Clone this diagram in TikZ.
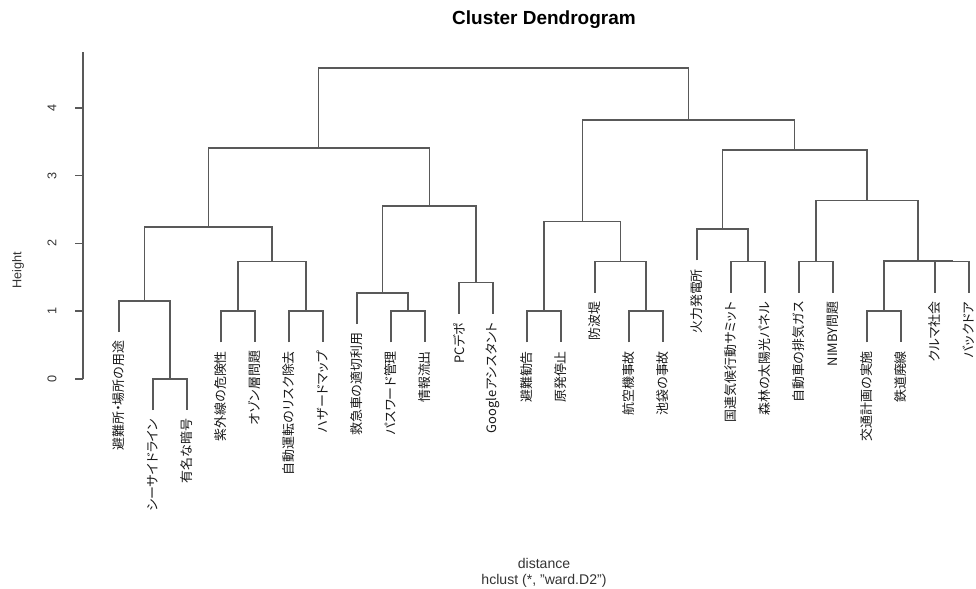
\documentclass[tikz,border=0pt]{standalone}
\usepackage{fontspec}
\setmainfont{Liberation Sans}
\newfontfamily\jpfont[RawFeature=+palt]{Noto Sans CJK JP}
\usetikzlibrary{calc}

\tikzset{
  branch/.style={draw=black!65, line width=1pt},
  leaflab/.style={rotate=90, anchor=east, inner sep=0pt, text=black!90,
    font=\jpfont\fontsize{9.2}{10}\selectfont},
  ticklab/.style={rotate=90, inner sep=0pt, text=black!80,
    font=\fontsize{9}{10}\selectfont},
}

\begin{document}
\begin{tikzpicture}[x=0.025cm, y=0.025cm]
    \useasboundingbox (0,0) rectangle (976,588);
    % titles
    \node[font=\fontsize{13.5}{15}\selectfont\bfseries] (title) at (544,568) {Cluster Dendrogram};
    \node[font=\fontsize{10}{12}\selectfont, text=black!80] (xlab) at (544,25) {distance};
    \node[font=\fontsize{10}{12}\selectfont, text=black!80] (sub) at (544,7) {hclust (*, "ward.D2")};
    \node[rotate=90, font=\fontsize{9}{11}\selectfont, text=black!80] (ylab) at (18,318) {Height};
  \begin{scope}[yshift=5.225cm, y=1.69375cm]
    % axis
    \coordinate (ax0) at (83,0);
    \coordinate (ax1) at (83,4.83);
    \draw[branch] (ax0) -- (ax1);
    \foreach \h in {0,...,4} {
      \draw[branch] (83,\h) -- (75,\h);
      \node[ticklab] (tk\h) at (52,\h) {\h};
    }
    % leaves
    \coordinate (l1) at (119,0.69);
    \coordinate (l2) at (153,-0.46);
    \coordinate (l3) at (187,-0.46);
    \coordinate (l4) at (221,0.54);
    \coordinate (l5) at (255,0.54);
    \coordinate (l6) at (289,0.54);
    \coordinate (l7) at (323,0.54);
    \coordinate (l8) at (357,0.81);
    \coordinate (l9) at (391,0.54);
    \coordinate (l10) at (425,0.54);
    \coordinate (l11) at (459,0.96);
    \coordinate (l12) at (493,0.96);
    \coordinate (l13) at (527,0.54);
    \coordinate (l14) at (561,0.54);
    \coordinate (l15) at (595,1.27);
    \coordinate (l16) at (629,0.54);
    \coordinate (l17) at (663,0.54);
    \coordinate (l18) at (697,1.75);
    \coordinate (l19) at (731,1.27);
    \coordinate (l20) at (765,1.27);
    \coordinate (l21) at (799,1.27);
    \coordinate (l22) at (833,1.27);
    \coordinate (l23) at (867,0.54);
    \coordinate (l24) at (901,0.54);
    \coordinate (l25) at (935,1.27);
    \coordinate (l26) at (969,1.27);
    % merges
    \coordinate (m23) at (170,0);
    \coordinate (m123) at (144.5,1.15);
    \coordinate (m45) at (238,1);
    \coordinate (m67) at (306,1);
    \coordinate (m4567) at (272,1.73);
    \coordinate (mA1) at (208.25,2.24);
    \coordinate (m910) at (408,1);
    \coordinate (m8910) at (382.5,1.27);
    \coordinate (m1112) at (476,1.42);
    \coordinate (mA2) at (429.25,2.55);
    \coordinate (mA) at (318.75,3.41);
    \coordinate (m1314) at (544,1);
    \coordinate (m1617) at (646,1);
    \coordinate (m1517) at (620.5,1.73);
    \coordinate (mB1) at (582.25,2.32);
    \coordinate (m1920) at (748,1.73);
    \coordinate (m1820) at (722.5,2.21);
    \coordinate (m2122) at (816,1.73);
    \coordinate (m2324) at (884,1);
    \coordinate (m2526) at (952,1.73);
    \coordinate (m2326) at (918,1.74);
    \coordinate (m2126) at (867,2.63);
    \coordinate (mB2) at (794.75,3.38);
    \coordinate (mB) at (688.5,3.82);
    \coordinate (root) at (503.6,4.59);
    % branches
    \draw[branch] (l2) |- (m23) -| (l3);
    \draw[branch] (l1) |- (m123) -| (m23);
    \draw[branch] (l4) |- (m45) -| (l5);
    \draw[branch] (l6) |- (m67) -| (l7);
    \draw[branch] (m45) |- (m4567) -| (m67);
    \draw[branch] (m123) |- (mA1) -| (m4567);
    \draw[branch] (l9) |- (m910) -| (l10);
    \draw[branch] (l8) |- (m8910) -| (m910);
    \draw[branch] (l11) |- (m1112) -| (l12);
    \draw[branch] (m8910) |- (mA2) -| (m1112);
    \draw[branch] (mA1) |- (mA) -| (mA2);
    \draw[branch] (l13) |- (m1314) -| (l14);
    \draw[branch] (l16) |- (m1617) -| (l17);
    \draw[branch] (l15) |- (m1517) -| (m1617);
    \draw[branch] (m1314) |- (mB1) -| (m1517);
    \draw[branch] (l19) |- (m1920) -| (l20);
    \draw[branch] (l18) |- (m1820) -| (m1920);
    \draw[branch] (l21) |- (m2122) -| (l22);
    \draw[branch] (l23) |- (m2324) -| (l24);
    \draw[branch] (l25) |- (m2526) -| (l26);
    \draw[branch] (m2324) |- (m2326) -| (m2526);
    \draw[branch] (m2122) |- (m2126) -| (m2326);
    \draw[branch] (m1820) |- (mB2) -| (m2126);
    \draw[branch] (mB1) |- (mB) -| (mB2);
    \draw[branch] (mA) |- (root) -| (mB);
    % labels
    \foreach \i/\txt in {1/避難所・場所の用途, 2/シーサイドライン, 3/有名な暗号,
        4/紫外線の危険性, 5/オゾン層問題, 6/自動運転のリスク除去, 7/ハザードマップ,
        8/救急車の適切利用, 9/パスワード管理, 10/情報流出, 11/PCデポ,
        12/Googleアシスタント, 13/避難勧告, 14/原発停止, 15/防波堤,
        16/航空機事故, 17/池袋の事故, 18/火力発電所, 19/国連気候行動サミット,
        20/森林の太陽光パネル, 21/自動車の排気ガス, 22/NIMBY問題,
        23/交通計画の実施, 24/鉄道廃線, 25/クルマ社会, 26/バックドア} {
      \node[leaflab] (t\i) at ([yshift=-6pt]l\i) {\txt};
    }
  \end{scope}
\end{tikzpicture}
\end{document}
